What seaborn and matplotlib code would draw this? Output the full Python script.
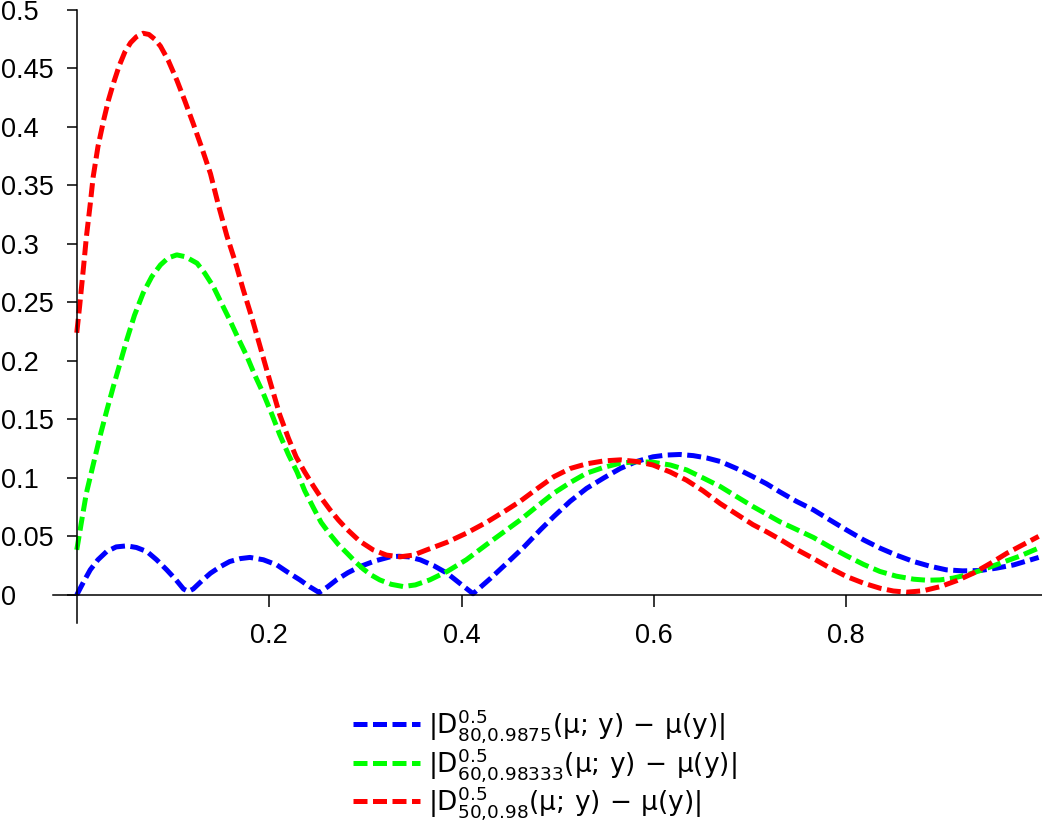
import pandas as pd
import matplotlib
matplotlib.use('Agg')
import matplotlib.pyplot as plt
import seaborn as sns

# >> values
x_red = [0.000, 0.003, 0.007, 0.010, 0.014, 0.017, 0.022, 0.028, 0.033, 0.038, 0.044,
         0.050, 0.056, 0.062, 0.069, 0.075, 0.081, 0.087, 0.095, 0.104, 0.112, 0.121,
         0.130, 0.139, 0.147, 0.156, 0.165, 0.173, 0.182, 0.190, 0.200, 0.211, 0.220,
         0.228, 0.237, 0.246, 0.254, 0.263, 0.272, 0.281, 0.294, 0.308, 0.322, 0.336,
         0.350, 0.364, 0.385, 0.405, 0.426, 0.447, 0.461, 0.479, 0.496, 0.513, 0.530,
         0.548, 0.565, 0.582, 0.599, 0.617, 0.634, 0.651, 0.669, 0.686, 0.703, 0.717,
         0.731, 0.748, 0.766, 0.783, 0.800, 0.818, 0.835, 0.849, 0.863, 0.880, 0.898,
         0.915, 0.932, 0.950, 0.967, 0.984, 1.000]
y_red = [0.224, 0.247, 0.280, 0.306, 0.334, 0.357, 0.383, 0.406, 0.423, 0.437, 0.452,
         0.464, 0.472, 0.477, 0.480, 0.479, 0.475, 0.469, 0.457, 0.440, 0.423, 0.403,
         0.382, 0.360, 0.334, 0.307, 0.284, 0.261, 0.237, 0.214, 0.185, 0.154, 0.134,
         0.118, 0.105, 0.093, 0.083, 0.073, 0.064, 0.056, 0.046, 0.0385, 0.034, 0.0325,
         0.034, 0.0385, 0.045, 0.0527, 0.062, 0.0726, 0.080, 0.091, 0.101, 0.108, 0.112,
         0.1145, 0.1154, 0.114, 0.111, 0.105, 0.098, 0.089, 0.078, 0.069, 0.060, 0.054,
         0.0475, 0.039, 0.031, 0.023, 0.0158, 0.010, 0.0057, 0.0033, 0.0023, 0.0035, 0.0071,
         0.0122, 0.0185, 0.027, 0.0356, 0.043, 0.050]

x_green = [0.000, 0.005, 0.010, 0.017, 0.024, 0.031, 0.038, 0.045, 0.052, 0.060, 0.069,
           0.078, 0.087, 0.095, 0.104, 0.113, 0.125, 0.133, 0.142, 0.150, 0.159, 0.168,
           0.177, 0.185, 0.194, 0.203, 0.211, 0.220, 0.229, 0.237, 0.246, 0.254, 0.263,
           0.272, 0.281, 0.290, 0.298, 0.306, 0.315, 0.327, 0.3395, 0.352, 0.367, 0.385,
           0.405, 0.426, 0.447, 0.461, 0.479, 0.496, 0.513, 0.530, 0.548, 0.565, 0.582,
           0.599, 0.617, 0.634, 0.651, 0.669, 0.686, 0.703, 0.717, 0.731, 0.748, 0.766,
           0.783, 0.800, 0.818, 0.835, 0.852, 0.870, 0.884, 0.8975, 0.911, 0.925, 0.942,
           0.960, 0.980, 1.000]
y_green = [0.0385, 0.063, 0.087, 0.111, 0.135, 0.157, 0.178, 0.198, 0.218, 0.239, 0.258,
           0.272, 0.282, 0.288, 0.2906, 0.289, 0.2835, 0.275, 0.2635, 0.250, 0.235, 0.219,
           0.2037, 0.188, 0.172, 0.154, 0.137, 0.120, 0.105, 0.089, 0.0745, 0.062, 0.052,
           0.043, 0.0356, 0.028, 0.022, 0.017, 0.0128, 0.009, 0.0071, 0.0085, 0.0128, 0.020,
           0.030, 0.043, 0.0556, 0.064, 0.076, 0.087, 0.096, 0.104, 0.109, 0.1126, 0.1138,
           0.1134, 0.111, 0.1068, 0.100, 0.0926, 0.084, 0.0755, 0.069, 0.0625, 0.056, 0.049,
           0.041, 0.0335, 0.026, 0.020, 0.016, 0.0134, 0.0125, 0.0128, 0.0143, 0.017, 0.0215,
           0.027, 0.033, 0.040]

x_blue = [0.000, 0.007, 0.014, 0.022, 0.031, 0.041, 0.052, 0.062, 0.073, 0.083, 0.0935,
          0.103, 0.111, 0.116, 0.121, 0.130, 0.139, 0.149, 0.159, 0.170, 0.180, 0.194,
          0.208, 0.220, 0.232, 0.242, 0.252, 0.261, 0.270, 0.282, 0.2945, 0.310, 0.3257,
          0.335, 0.345, 0.357, 0.371, 0.385, 0.398, 0.412, 0.430, 0.447, 0.465, 0.482,
          0.496, 0.513, 0.530, 0.548, 0.565, 0.582, 0.599, 0.613, 0.627, 0.641, 0.655,
          0.669, 0.686, 0.703, 0.717, 0.731, 0.748, 0.766, 0.783, 0.800, 0.818, 0.835,
          0.852, 0.870, 0.887, 0.904, 0.921, 0.939, 0.956, 0.974, 1.000]
y_blue = [0.000, 0.011, 0.0214, 0.030, 0.037, 0.041, 0.0419, 0.0405, 0.037, 0.030, 0.0214,
          0.013, 0.005, 0.003, 0.005, 0.012, 0.0185, 0.024, 0.0285, 0.031, 0.032, 0.030,
          0.0256, 0.019, 0.0128, 0.007, 0.002, 0.007, 0.0128, 0.019, 0.0242, 0.029, 0.0325,
          0.033, 0.0325, 0.030, 0.025, 0.0185, 0.010, 0.001, 0.014, 0.027, 0.041, 0.0556,
          0.067, 0.080, 0.091, 0.100, 0.108, 0.114, 0.118, 0.1195, 0.120, 0.119, 0.117,
          0.114, 0.108, 0.101, 0.095, 0.088, 0.080, 0.0726, 0.064, 0.0556, 0.047, 0.040,
          0.034, 0.0285, 0.0245, 0.0214, 0.0205, 0.0208, 0.0228, 0.0256, 0.032]

labels = [r'$|D^{0.5}_{80{,}0.9875}(\mu;\,y)\,-\,\mu(y)|$',
          r'$|D^{0.5}_{60{,}0.98333}(\mu;\,y)\,-\,\mu(y)|$',
          r'$|D^{0.5}_{50{,}0.98}(\mu;\,y)\,-\,\mu(y)|$']
colors = ['#0000ff', '#00ff00', '#ff0000']

x_ticks = [0.2, 0.4, 0.6, 0.8]
y_ticks = [0, 0.05, 0.1, 0.15, 0.2, 0.25, 0.3, 0.35, 0.4, 0.45, 0.5]
y_tick_labels = ['0', '0.05', '0.1', '0.15', '0.2', '0.25', '0.3', '0.35', '0.4', '0.45', '0.5']

# Build a long table for seaborn
df = pd.concat([
    pd.DataFrame({'x': x_blue, 'y': y_blue, 'curve': labels[0]}),
    pd.DataFrame({'x': x_green, 'y': y_green, 'curve': labels[1]}),
    pd.DataFrame({'x': x_red, 'y': y_red, 'curve': labels[2]}),
])

sns.set_style('white')
plt.rcParams['font.family'] = ['Liberation Sans', 'DejaVu Sans']
plt.rcParams['mathtext.fontset'] = 'dejavusans'
plt.rcParams['mathtext.default'] = 'regular'

fig = plt.figure(figsize=(10.42, 8.24), dpi=100)
ax = fig.add_axes([0.0506, 0.244, 0.9494, 0.744])

sns.lineplot(data=df, x='x', y='y', hue='curve', style='curve',
             palette=dict(zip(labels, colors)),
             dashes={l: (2.8, 1.1) for l in labels},
             estimator=None, sort=False, linewidth=3.6, ax=ax)

ax.set_xlim(-0.025, 1.0035)
ax.set_ylim(-0.024, 0.5)
ax.set_xticks(x_ticks)
ax.set_xticklabels([str(t) for t in x_ticks])
ax.set_yticks(y_ticks)
ax.set_yticklabels(y_tick_labels)
ax.set_xlabel('')
ax.set_ylabel('')

# Maple-like axes crossing at the origin
ax.spines['left'].set_position(('data', 0))
ax.spines['bottom'].set_position(('data', 0))
ax.spines['top'].set_visible(False)
ax.spines['right'].set_visible(False)
for s in ['left', 'bottom']:
    ax.spines[s].set_color('black')
    ax.spines[s].set_linewidth(1.1)
ax.tick_params(axis='y', direction='out', length=7, width=1.1, pad=47.5, labelsize=19.5,
               left=True, colors='black')
ax.tick_params(axis='x', direction='out', length=8.5, width=1.1, pad=12, labelsize=19.5,
               bottom=True, colors='black')
for t in ax.get_yticklabels():
    t.set_horizontalalignment('left')

handles, _ = ax.get_legend_handles_labels()
ax.get_legend().remove()
leg = fig.legend(handles, labels, loc='center', bbox_to_anchor=(0.523, 0.072),
                 frameon=False, prop={'family': 'DejaVu Sans', 'size': 19},
                 handlelength=2.55, labelspacing=0.02, handletextpad=0.32,
                 borderpad=0.2)
for t in leg.get_texts():
    t.set_color('black')

fig.savefig('out.png', dpi=100)
